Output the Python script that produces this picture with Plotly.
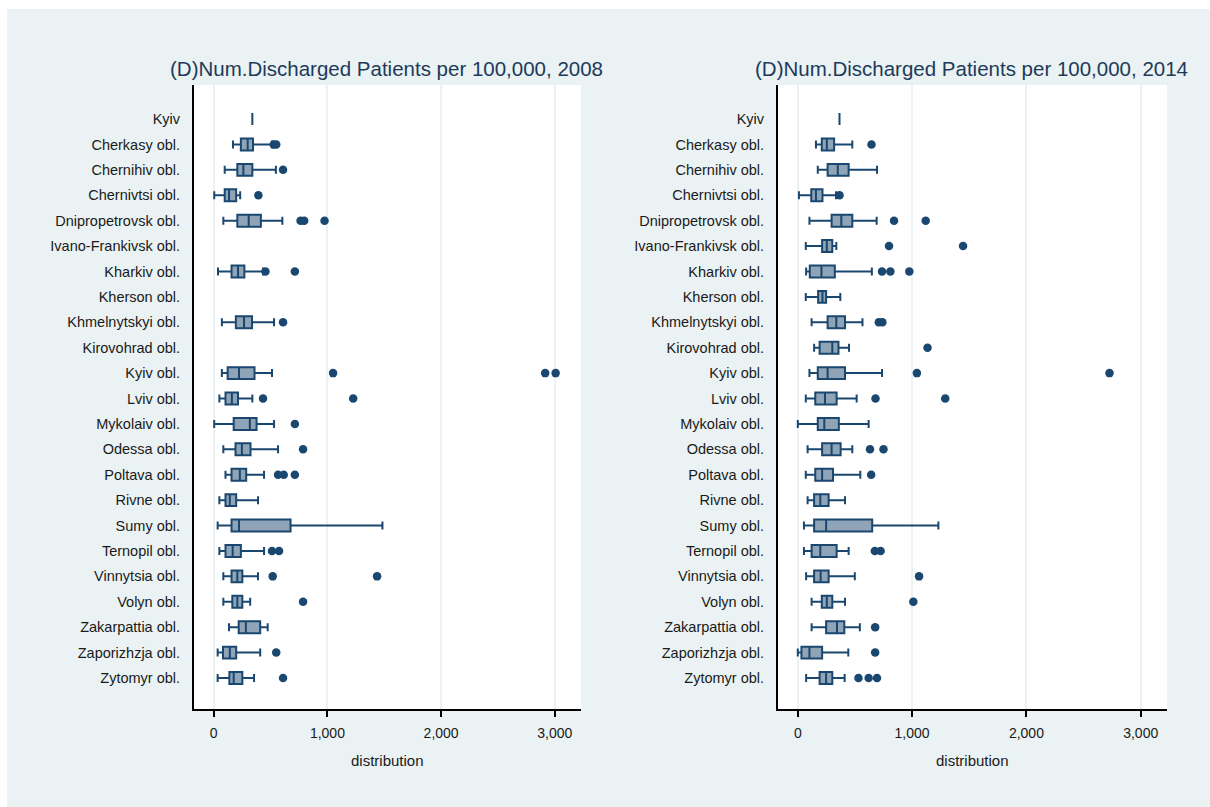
import plotly.graph_objects as go

# Regions in display order (top to bottom)
regions = [
    "Kyiv", "Cherkasy obl.", "Chernihiv obl.", "Chernivtsi obl.", "Dnipropetrovsk obl.",
    "Ivano-Frankivsk obl.", "Kharkiv obl.", "Kherson obl.", "Khmelnytskyi obl.",
    "Kirovohrad obl.", "Kyiv obl.", "Lviv obl.", "Mykolaiv obl.", "Odessa obl.",
    "Poltava obl.", "Rivne obl.", "Sumy obl.", "Ternopil obl.", "Vinnytsia obl.",
    "Volyn obl.", "Zakarpattia obl.", "Zaporizhzja obl.", "Zytomyr obl.",
]

# ---- 2008 ----
regions_2008 = [
    "Kyiv", "Cherkasy obl.", "Chernihiv obl.", "Chernivtsi obl.", "Dnipropetrovsk obl.",
    "Kharkiv obl.", "Khmelnytskyi obl.", "Kyiv obl.", "Lviv obl.", "Mykolaiv obl.",
    "Odessa obl.", "Poltava obl.", "Rivne obl.", "Sumy obl.", "Ternopil obl.",
    "Vinnytsia obl.", "Volyn obl.", "Zakarpattia obl.", "Zaporizhzja obl.", "Zytomyr obl.",
]
low_2008 = [340, 170, 97, 5, 85, 38, 72, 72, 50, 5, 85, 104, 50, 35, 50, 85, 85, 135, 35, 35]
q1_2008 = [340, 239, 208, 97, 208, 157, 195, 123, 104, 176, 192, 157, 104, 157, 104, 157, 164, 220, 82, 138]
med_2008 = [340, 299, 261, 135, 308, 214, 267, 223, 160, 318, 248, 230, 142, 223, 167, 208, 208, 283, 142, 176]
q3_2008 = [340, 346, 340, 198, 415, 270, 337, 359, 214, 377, 324, 286, 198, 676, 239, 252, 252, 409, 198, 252]
high_2008 = [340, 513, 547, 233, 604, 434, 531, 513, 340, 531, 566, 443, 390, 1484, 443, 390, 321, 475, 409, 355]
out_region_2008 = [
    "Cherkasy obl.", "Cherkasy obl.", "Chernihiv obl.", "Chernivtsi obl.",
    "Dnipropetrovsk obl.", "Dnipropetrovsk obl.", "Dnipropetrovsk obl.",
    "Kharkiv obl.", "Kharkiv obl.", "Khmelnytskyi obl.",
    "Kyiv obl.", "Kyiv obl.", "Kyiv obl.", "Lviv obl.", "Lviv obl.",
    "Mykolaiv obl.", "Odessa obl.", "Poltava obl.", "Poltava obl.", "Poltava obl.",
    "Ternopil obl.", "Ternopil obl.", "Vinnytsia obl.", "Vinnytsia obl.",
    "Volyn obl.", "Zaporizhzja obl.", "Zytomyr obl.",
]
out_value_2008 = [
    528, 550, 610, 393,
    764, 796, 975,
    455, 714, 610,
    1050, 2915, 3007, 434, 1227,
    714, 786, 566, 616, 714,
    513, 575, 519, 1437,
    786, 550, 610,
]

# ---- 2014 ----
regions_2014 = regions
low_2014 = [365, 159, 175, 10, 102, 70, 73, 70, 121, 143, 102, 70, 0, 86, 70, 86, 54, 54, 73, 121, 121, 0, 73]
q1_2014 = [365, 210, 261, 118, 296, 213, 105, 178, 261, 191, 175, 153, 175, 213, 153, 143, 143, 121, 143, 210, 248, 32, 191]
med_2014 = [365, 254, 350, 159, 381, 254, 207, 216, 337, 302, 261, 238, 232, 296, 213, 197, 248, 197, 200, 254, 343, 102, 248]
q3_2014 = [365, 318, 445, 216, 477, 302, 324, 248, 413, 356, 413, 340, 359, 375, 308, 270, 651, 340, 270, 302, 407, 213, 302]
high_2014 = [365, 477, 693, 334, 690, 337, 648, 372, 566, 448, 737, 515, 620, 477, 547, 413, 1230, 445, 499, 413, 543, 442, 410]
out_region_2014 = [
    "Cherkasy obl.", "Chernivtsi obl.",
    "Dnipropetrovsk obl.", "Dnipropetrovsk obl.",
    "Ivano-Frankivsk obl.", "Ivano-Frankivsk obl.",
    "Kharkiv obl.", "Kharkiv obl.", "Kharkiv obl.",
    "Khmelnytskyi obl.", "Khmelnytskyi obl.", "Kirovohrad obl.",
    "Kyiv obl.", "Kyiv obl.", "Lviv obl.", "Lviv obl.",
    "Odessa obl.", "Odessa obl.", "Poltava obl.",
    "Ternopil obl.", "Ternopil obl.", "Vinnytsia obl.", "Volyn obl.",
    "Zakarpattia obl.", "Zaporizhzja obl.",
    "Zytomyr obl.", "Zytomyr obl.", "Zytomyr obl.",
]
out_value_2014 = [
    645, 365,
    842, 1119,
    798, 1446,
    737, 810, 976,
    709, 740, 1135,
    1042, 2727, 680, 1290,
    632, 750, 642,
    674, 725, 1061, 1011,
    677, 677,
    531, 620, 693,
]

x_ticks = [0, 1000, 2000, 3000]

NAVY = "#1a476f"
FILL = "#90a4b8"
BG = "#eaf2f3"
FONT = "Liberation Sans, Arial, sans-serif"

fig = go.Figure()

panels = [
    ("x", "y", regions_2008, low_2008, q1_2008, med_2008, q3_2008, high_2008, out_region_2008, out_value_2008),
    ("x2", "y2", regions_2014, low_2014, q1_2014, med_2014, q3_2014, high_2014, out_region_2014, out_value_2014),
]
for xa, ya, cats, lo, q1, med, q3, hi, oy, ox in panels:
    fig.add_trace(go.Box(
        orientation="h", y=cats, q1=q1, median=med, q3=q3,
        lowerfence=lo, upperfence=hi, boxpoints=False,
        width=0.47, whiskerwidth=0.67,
        fillcolor=FILL, line=dict(color=NAVY, width=2),
        xaxis=xa, yaxis=ya, showlegend=False, hoverinfo="skip",
    ))
    fig.add_trace(go.Scatter(
        x=ox, y=oy, mode="markers",
        marker=dict(color=NAVY, size=8.5, line=dict(width=0)),
        xaxis=xa, yaxis=ya, showlegend=False, hoverinfo="skip",
    ))

W, H = 1210, 807
px = lambda v: v / W
py = lambda v: 1 - v / H

xaxis_common = dict(
    range=[-173, 3230], tickvals=x_ticks, tickformat=",d",
    showline=True, linecolor="black", linewidth=2, mirror=False,
    ticks="outside", ticklen=6, tickwidth=2, tickcolor="black",
    ticklabelstandoff=4,
    showgrid=True, gridcolor=BG, gridwidth=1.5, zeroline=False,
    tickfont=dict(family=FONT, size=14, color="#1a1a1a"),
)
yaxis_common = dict(
    type="category", categoryorder="array", categoryarray=regions,
    range=[23.22, -1.34], showline=True, linecolor="black", linewidth=2,
    ticks="outside", ticklen=9, tickcolor="rgba(0,0,0,0)",
    showgrid=False, zeroline=False,
    tickfont=dict(family=FONT, size=14.5, color="#1a1a1a"),
)

fig.update_layout(
    width=W, height=H, margin=dict(l=0, r=0, t=0, b=0),
    paper_bgcolor=BG, plot_bgcolor="white",
    xaxis=dict(domain=[px(194), px(581)], anchor="y", **xaxis_common),
    yaxis=dict(domain=[py(709), py(85)], anchor="x", **yaxis_common),
    xaxis2=dict(domain=[px(778), px(1167)], anchor="y2", **xaxis_common),
    yaxis2=dict(domain=[py(709), py(85)], anchor="x2", **yaxis_common),
    shapes=[
        dict(type="rect", xref="paper", yref="paper", x0=0, x1=px(7), y0=0, y1=1,
             fillcolor="white", line=dict(width=0), layer="below"),
        dict(type="rect", xref="paper", yref="paper", x0=0, x1=1, y0=py(9), y1=1,
             fillcolor="white", line=dict(width=0), layer="below"),
    ],
    annotations=[
        dict(text="(D)Num.Discharged Patients per 100,000, 2008", xref="paper", yref="paper",
             x=px(386), y=py(69), showarrow=False, xanchor="center", yanchor="middle",
             font=dict(family=FONT, size=20.5, color="#1e3a5a")),
        dict(text="(D)Num.Discharged Patients per 100,000, 2014", xref="paper", yref="paper",
             x=px(972), y=py(69), showarrow=False, xanchor="center", yanchor="middle",
             font=dict(family=FONT, size=20.5, color="#1e3a5a")),
        dict(text="distribution", xref="paper", yref="paper",
             x=px(387.5), y=py(760), showarrow=False, xanchor="center", yanchor="middle",
             font=dict(family=FONT, size=15, color="#1a1a1a")),
        dict(text="distribution", xref="paper", yref="paper",
             x=px(972.5), y=py(760), showarrow=False, xanchor="center", yanchor="middle",
             font=dict(family=FONT, size=15, color="#1a1a1a")),
    ],
)

fig.write_html("out.html")
